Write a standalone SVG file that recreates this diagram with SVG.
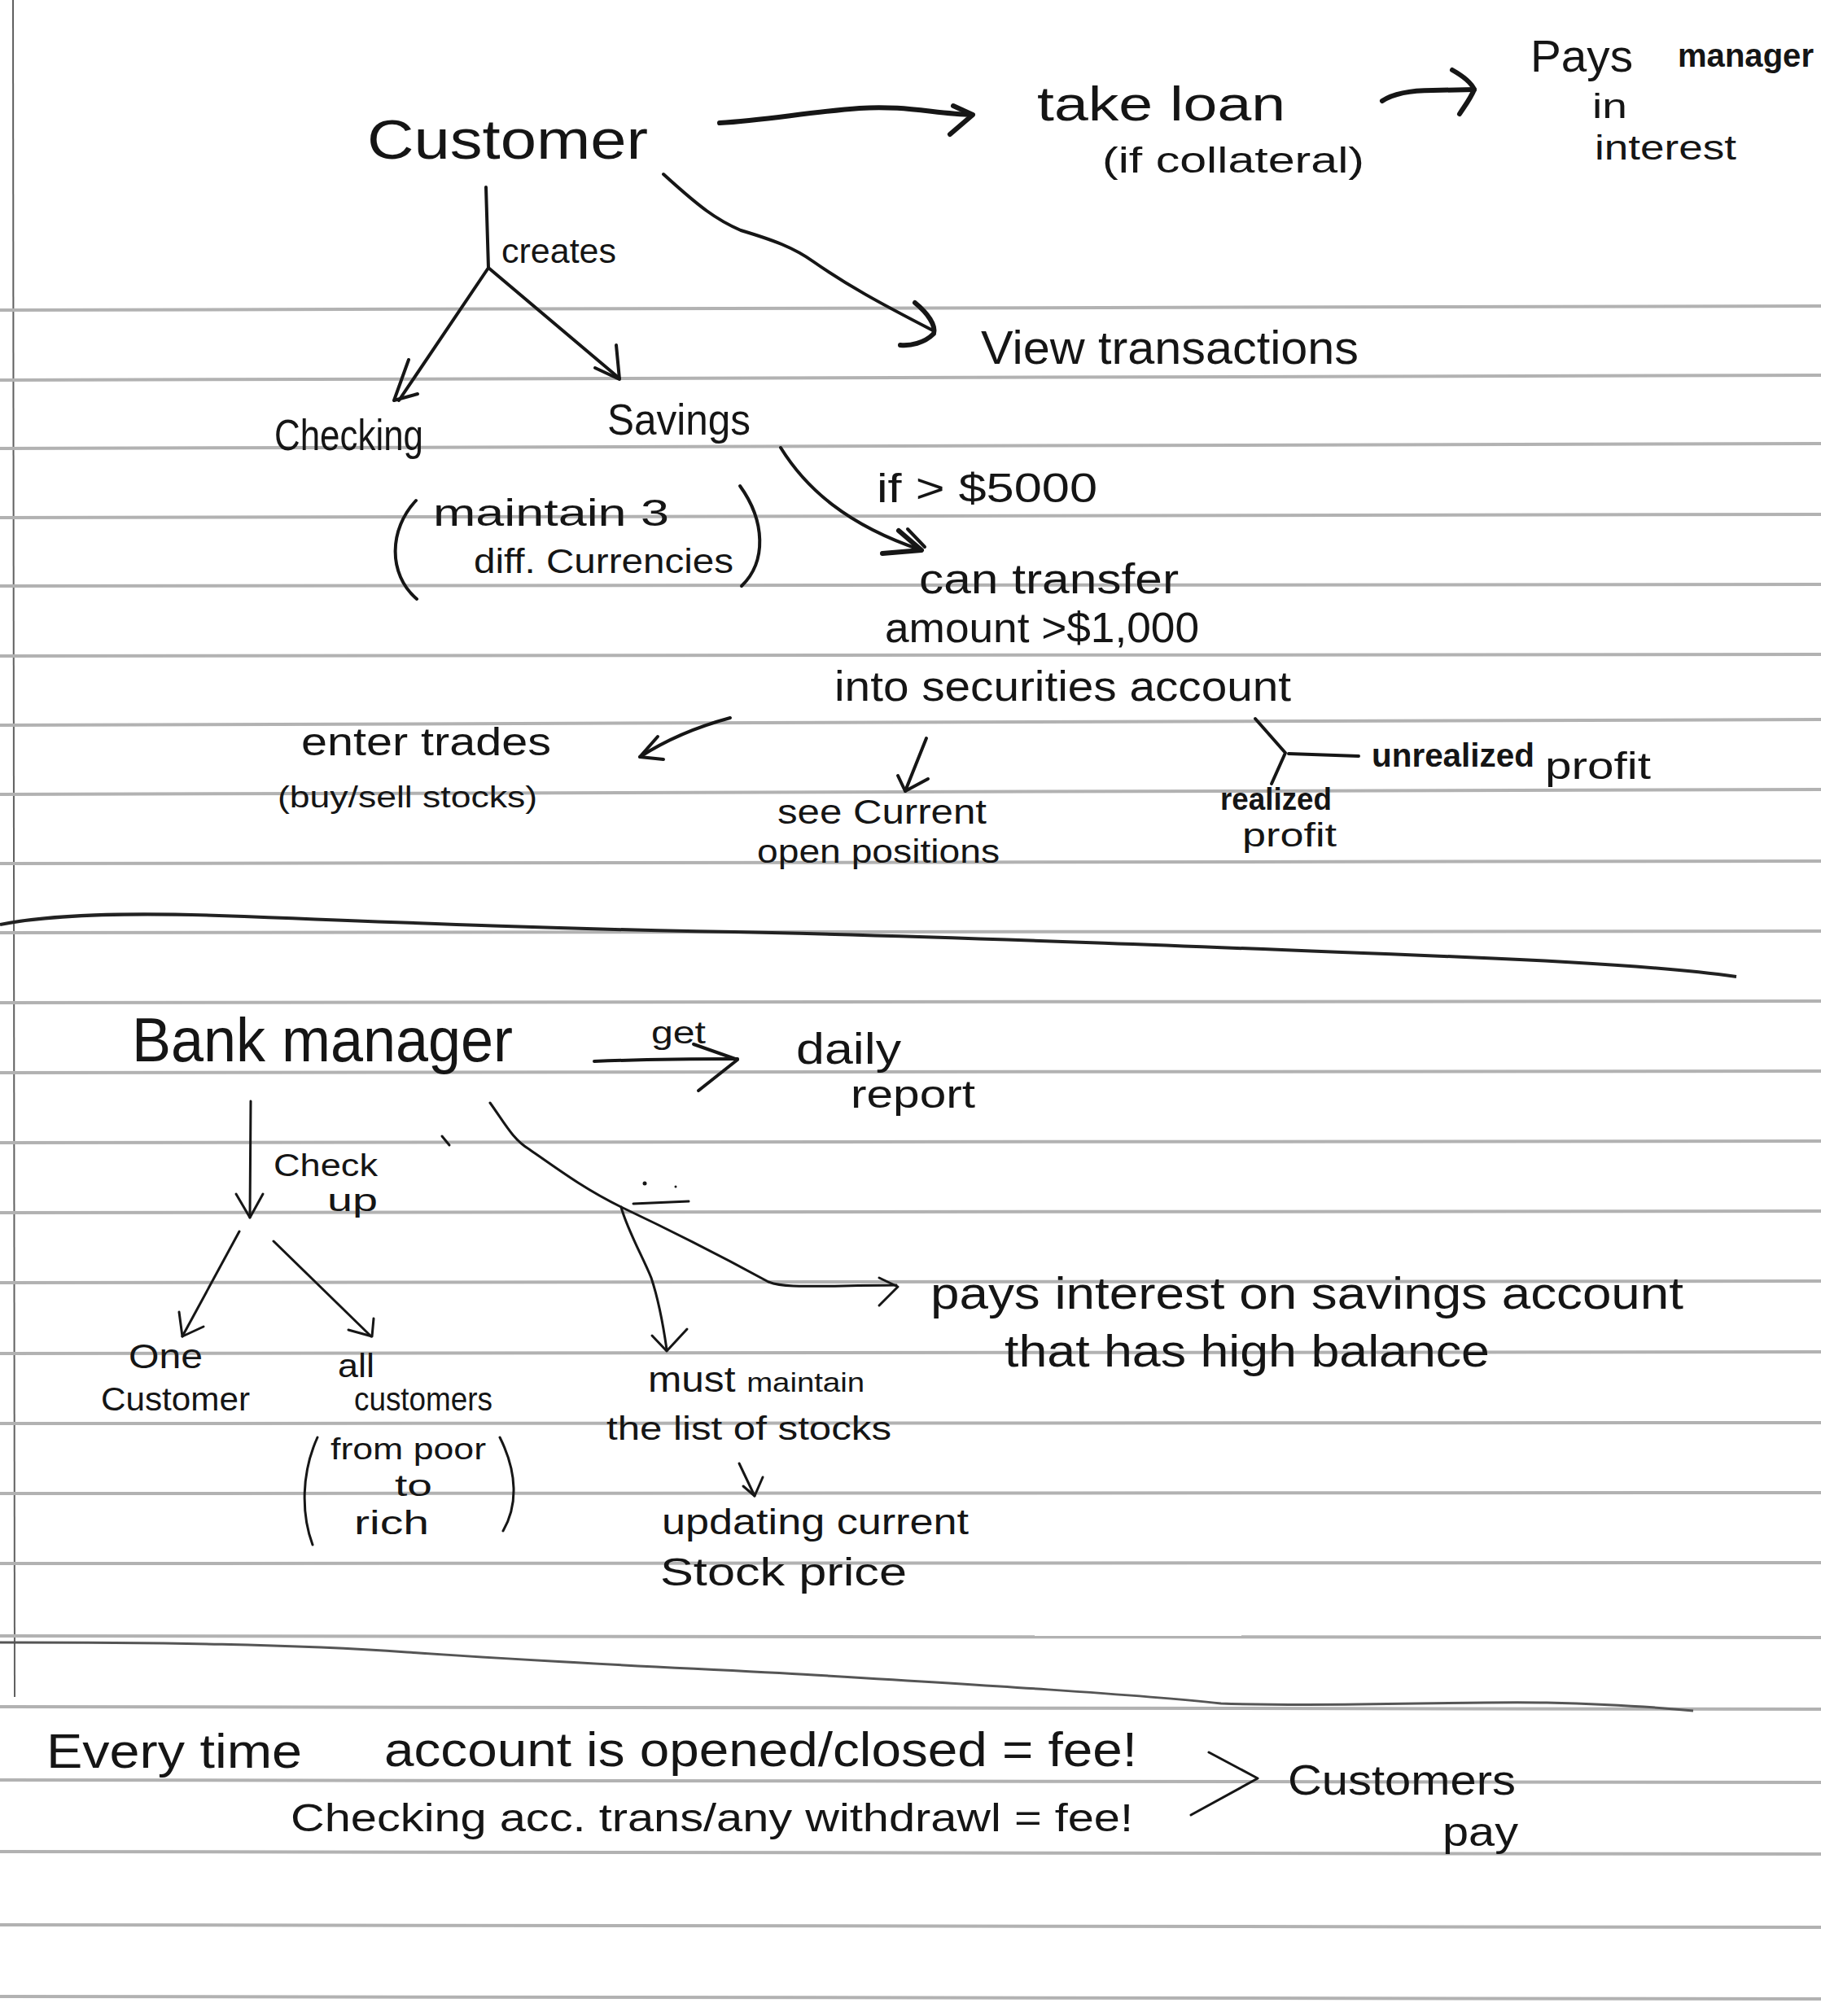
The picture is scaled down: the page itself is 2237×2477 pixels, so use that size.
<svg xmlns="http://www.w3.org/2000/svg" width="2237" height="2477" viewBox="0 0 2237 2477">
<style>
.t{font-family:"Liberation Sans","DejaVu Sans",Arial,sans-serif;fill:#151515;}
.c{fill:none;stroke:#161616;stroke-width:4;stroke-linecap:round;stroke-linejoin:round;}
.thick{stroke-width:6;}
.thin{stroke-width:3;}
.rule{stroke:#b2b2b2;stroke-width:4;}
</style>
<rect width="2237" height="2477" fill="#ffffff"/>
<g id="paper">
<line x1="16" y1="0" x2="18" y2="2085" stroke="#606060" stroke-width="2"/>
<g class="rule">
<line x1="0" y1="381" x2="2237" y2="376"/>
<line x1="0" y1="467" x2="2237" y2="461"/>
<line x1="0" y1="551" x2="2237" y2="545"/>
<line x1="0" y1="636" x2="2237" y2="632"/>
<line x1="0" y1="720" x2="2237" y2="718"/>
<line x1="0" y1="806" x2="2237" y2="804"/>
<line x1="0" y1="891" x2="2237" y2="884"/>
<line x1="0" y1="976" x2="2237" y2="970"/>
<line x1="0" y1="1061" x2="2237" y2="1058"/>
<line x1="0" y1="1146" x2="2237" y2="1144"/>
<line x1="0" y1="1232" x2="2237" y2="1230"/>
<line x1="0" y1="1318" x2="2237" y2="1316"/>
<line x1="0" y1="1404" x2="2237" y2="1402"/>
<line x1="0" y1="1490" x2="2237" y2="1488"/>
<line x1="0" y1="1576" x2="2237" y2="1574"/>
<line x1="0" y1="1663" x2="2237" y2="1661"/>
<line x1="0" y1="1749" x2="2237" y2="1748"/>
<line x1="0" y1="1835" x2="2237" y2="1834"/>
<line x1="0" y1="1921" x2="2237" y2="1920"/>
<line x1="0" y1="2010" x2="2237" y2="2012"/>
<line x1="0" y1="2097" x2="2237" y2="2100"/>
<line x1="0" y1="2187" x2="2237" y2="2190"/>
<line x1="0" y1="2275" x2="2237" y2="2278"/>
<line x1="0" y1="2365" x2="2237" y2="2368"/>
<line x1="0" y1="2453" x2="2237" y2="2456"/>
</g>
<path d="M0,1136 C60,1124 150,1120 300,1126 C500,1134 700,1142 948,1146 C1200,1152 1500,1164 1800,1176 C1950,1182 2060,1190 2133,1200" fill="none" stroke="#222" stroke-width="4"/>
<path d="M0,2018 C200,2018 360,2020 500,2030 C700,2044 860,2050 1000,2058 C1200,2070 1400,2082 1500,2093 C1650,2098 1780,2090 1900,2092 C1980,2094 2040,2098 2080,2102" fill="none" stroke="#555" stroke-width="3"/>
</g>

<g id="connectors">
<path class="c thick" d="M884,151 C940,148 990,138 1056,133 C1110,129 1150,140 1194,141"/>
<path class="c thick" d="M1171,130 L1195,141 L1167,165"/>
<path class="c thick" d="M1698,124 C1710,116 1730,111 1760,111 L1811,110"/>
<path class="c thick" d="M1784,86 C1800,95 1808,103 1811,110 C1806,122 1798,132 1793,140"/>
<path class="c" d="M815,214 C860,255 880,270 910,283 C950,295 975,304 1000,322 C1040,350 1080,372 1144,405"/>
<path class="c thick" d="M1124,372 C1140,385 1150,400 1147,410 C1135,422 1118,425 1106,424"/>
<path class="c" d="M597,230 L600,329 L490,492"/>
<path class="c" d="M502,442 L484,492 L513,484"/>
<path class="c" d="M600,329 L761,465"/>
<path class="c" d="M757,424 L761,466 L731,452"/>
<path class="c" d="M959,550 C990,600 1040,645 1132,676"/>
<path class="c thick" d="M1104,652 L1132,676 L1084,680"/>
<path class="c" d="M1115,650 L1136,672"/>
<path class="c" d="M511,615 C478,650 476,705 512,736"/>
<path class="c" d="M909,597 C940,640 942,690 911,720"/>
<path class="c" d="M897,882 C860,892 820,908 786,930"/>
<path class="c" d="M808,905 L786,930 L815,933"/>
<path class="c" d="M1138,907 L1112,972"/>
<path class="c" d="M1103,953 L1112,972 L1140,957"/>
<path class="c" d="M1542,883 L1579,925 L1562,963"/>
<path class="c" d="M1583,926 L1669,929"/>
<path class="c" d="M730,1304 C780,1302 850,1301 906,1301"/>
<path class="c" d="M852,1283 L906,1302 L858,1340"/>
<path class="c thin" d="M308,1353 L307,1496"/>
<path class="c thin" d="M290,1467 L307,1496 L323,1467"/>
<path class="c thin" d="M294,1513 L224,1642"/>
<path class="c thin" d="M220,1612 L224,1642 L250,1630"/>
<path class="c thin" d="M336,1525 L456,1642"/>
<path class="c thin" d="M428,1634 L457,1642 L459,1620"/>
<path class="c thin" d="M602,1355 C620,1380 630,1400 650,1412 C690,1440 720,1462 763,1483 C820,1510 880,1540 944,1575 C965,1583 990,1580 1101,1579"/>
<path class="c thin" d="M1080,1570 L1103,1581 L1080,1604"/>
<path class="c thin" d="M763,1483 C770,1510 790,1545 800,1570 C810,1600 815,1630 819,1658"/>
<path class="c thin" d="M801,1641 L819,1660 L844,1633"/>
<path class="c thin" d="M778,1479 L846,1476"/>
<path class="c thin" d="M543,1396 L552,1407"/>
<circle cx="792" cy="1454" r="2.5" fill="#161616"/>
<circle cx="830" cy="1458" r="1.5" fill="#161616"/>
<path class="c thin" d="M908,1798 L927,1838"/>
<path class="c thin" d="M937,1815 L927,1838 L913,1826"/>
<path class="c thin" d="M390,1766 C370,1810 370,1860 384,1898"/>
<path class="c thin" d="M614,1766 C636,1810 636,1850 618,1881"/>
<path class="c thin" d="M1485,2153 L1545,2185 L1463,2230"/>
</g>

<g id="customer"><text class="t" x="451" y="195" font-size="68" textLength="345" lengthAdjust="spacingAndGlyphs">Customer</text></g>
<g id="take-loan">
<text class="t" x="1274" y="148" font-size="60" textLength="305" lengthAdjust="spacingAndGlyphs">take loan</text>
<text class="t" x="1354" y="212" font-size="44" textLength="322" lengthAdjust="spacingAndGlyphs">(if collateral)</text>
</g>
<g id="pays-manager">
<text class="t" x="1880" y="88" font-size="56" textLength="126" lengthAdjust="spacingAndGlyphs">Pays</text>
<text class="t" x="2061" y="82" font-size="40" font-weight="bold" textLength="167" lengthAdjust="spacingAndGlyphs">manager</text>
<text class="t" x="1956" y="145" font-size="42" textLength="43" lengthAdjust="spacingAndGlyphs">in</text>
<text class="t" x="1959" y="196" font-size="42" textLength="174" lengthAdjust="spacingAndGlyphs">interest</text>
</g>
<g id="view-transactions"><text class="t" x="1205" y="447" font-size="58" textLength="464" lengthAdjust="spacingAndGlyphs">View transactions</text></g>
<g id="label-creates"><text class="t" x="616" y="323" font-size="42" textLength="141" lengthAdjust="spacingAndGlyphs">creates</text></g>
<g id="checking">
<text class="t" x="337" y="553" font-size="54" textLength="183" lengthAdjust="spacingAndGlyphs">Checking</text>
<text class="t" x="532" y="646" font-size="46" textLength="290" lengthAdjust="spacingAndGlyphs">maintain 3</text>
<text class="t" x="582" y="704" font-size="42" textLength="319" lengthAdjust="spacingAndGlyphs">diff. Currencies</text>
</g>
<g id="savings"><text class="t" x="746" y="534" font-size="54" textLength="176" lengthAdjust="spacingAndGlyphs">Savings</text></g>
<g id="label-if"><text class="t" x="1077" y="617" font-size="50" textLength="271" lengthAdjust="spacingAndGlyphs">if &gt; $5000</text></g>
<g id="transfer">
<text class="t" x="1129" y="729" font-size="52" textLength="319" lengthAdjust="spacingAndGlyphs">can transfer</text>
<text class="t" x="1087" y="789" font-size="52" textLength="386" lengthAdjust="spacingAndGlyphs">amount &gt;$1,000</text>
<text class="t" x="1025" y="861" font-size="52" textLength="561" lengthAdjust="spacingAndGlyphs">into securities account</text>
</g>
<g id="enter-trades">
<text class="t" x="370" y="928" font-size="48" textLength="307" lengthAdjust="spacingAndGlyphs">enter trades</text>
<text class="t" x="341" y="992" font-size="36" textLength="319" lengthAdjust="spacingAndGlyphs">(buy/sell stocks)</text>
</g>
<g id="open-positions">
<text class="t" x="955" y="1012" font-size="42" textLength="257" lengthAdjust="spacingAndGlyphs">see Current</text>
<text class="t" x="930" y="1060" font-size="40" textLength="298" lengthAdjust="spacingAndGlyphs">open positions</text>
</g>
<g id="unrealized-profit">
<text class="t" x="1685" y="942" font-size="40" font-weight="bold" textLength="200" lengthAdjust="spacingAndGlyphs">unrealized</text>
<text class="t" x="1898" y="957" font-size="46" textLength="130" lengthAdjust="spacingAndGlyphs">profit</text>
</g>
<g id="realized-profit">
<text class="t" x="1499" y="995" font-size="38" font-weight="bold" textLength="137" lengthAdjust="spacingAndGlyphs">realized</text>
<text class="t" x="1526" y="1040" font-size="40" textLength="116" lengthAdjust="spacingAndGlyphs">profit</text>
</g>

<g id="bank-manager"><text class="t" x="162" y="1304" font-size="76" textLength="468" lengthAdjust="spacingAndGlyphs">Bank manager</text></g>
<g id="label-get"><text class="t" x="800" y="1282" font-size="38" textLength="67" lengthAdjust="spacingAndGlyphs">get</text></g>
<g id="daily-report">
<text class="t" x="978" y="1307" font-size="54" textLength="129" lengthAdjust="spacingAndGlyphs">daily</text>
<text class="t" x="1045" y="1361" font-size="48" textLength="153" lengthAdjust="spacingAndGlyphs">report</text>
</g>
<g id="label-check-up">
<text class="t" x="336" y="1445" font-size="38" textLength="128" lengthAdjust="spacingAndGlyphs">Check</text>
<text class="t" x="402" y="1488" font-size="38" textLength="62" lengthAdjust="spacingAndGlyphs">up</text>
</g>
<g id="one-customer">
<text class="t" x="158" y="1681" font-size="42" textLength="91" lengthAdjust="spacingAndGlyphs">One</text>
<text class="t" x="124" y="1733" font-size="40" textLength="183" lengthAdjust="spacingAndGlyphs">Customer</text>
</g>
<g id="all-customers">
<text class="t" x="415" y="1692" font-size="40" textLength="45" lengthAdjust="spacingAndGlyphs">all</text>
<text class="t" x="435" y="1733" font-size="40" textLength="170" lengthAdjust="spacingAndGlyphs">customers</text>
<text class="t" x="406" y="1793" font-size="36" textLength="191" lengthAdjust="spacingAndGlyphs">from poor</text>
<text class="t" x="485" y="1838" font-size="36" textLength="46" lengthAdjust="spacingAndGlyphs">to</text>
<text class="t" x="435" y="1885" font-size="40" textLength="92" lengthAdjust="spacingAndGlyphs">rich</text>
</g>
<g id="pays-interest">
<text class="t" x="1143" y="1608" font-size="56" textLength="925" lengthAdjust="spacingAndGlyphs">pays interest on savings account</text>
<text class="t" x="1234" y="1679" font-size="56" textLength="596" lengthAdjust="spacingAndGlyphs">that has high balance</text>
</g>
<g id="stock-list">
<text class="t" x="796" y="1710" font-size="44" textLength="266" lengthAdjust="spacingAndGlyphs">must <tspan font-size="34">maintain</tspan></text>
<text class="t" x="745" y="1769" font-size="40" textLength="350" lengthAdjust="spacingAndGlyphs">the list of stocks</text>
</g>
<g id="stock-price">
<text class="t" x="813" y="1885" font-size="44" textLength="377" lengthAdjust="spacingAndGlyphs">updating current</text>
<text class="t" x="811" y="1948" font-size="48" textLength="303" lengthAdjust="spacingAndGlyphs">Stock price</text>
</g>

<g id="fees">
<text class="t" x="57" y="2172" font-size="60" textLength="314" lengthAdjust="spacingAndGlyphs">Every time</text>
<text class="t" x="472" y="2170" font-size="60" textLength="925" lengthAdjust="spacingAndGlyphs">account is opened/closed = fee!</text>
<text class="t" x="357" y="2250" font-size="48" textLength="1035" lengthAdjust="spacingAndGlyphs">Checking acc. trans/any withdrawl = fee!</text>
</g>
<g id="customers-pay">
<text class="t" x="1582" y="2205" font-size="52" textLength="280" lengthAdjust="spacingAndGlyphs">Customers</text>
<text class="t" x="1772" y="2268" font-size="50" textLength="93" lengthAdjust="spacingAndGlyphs">pay</text>
</g>
</svg>
